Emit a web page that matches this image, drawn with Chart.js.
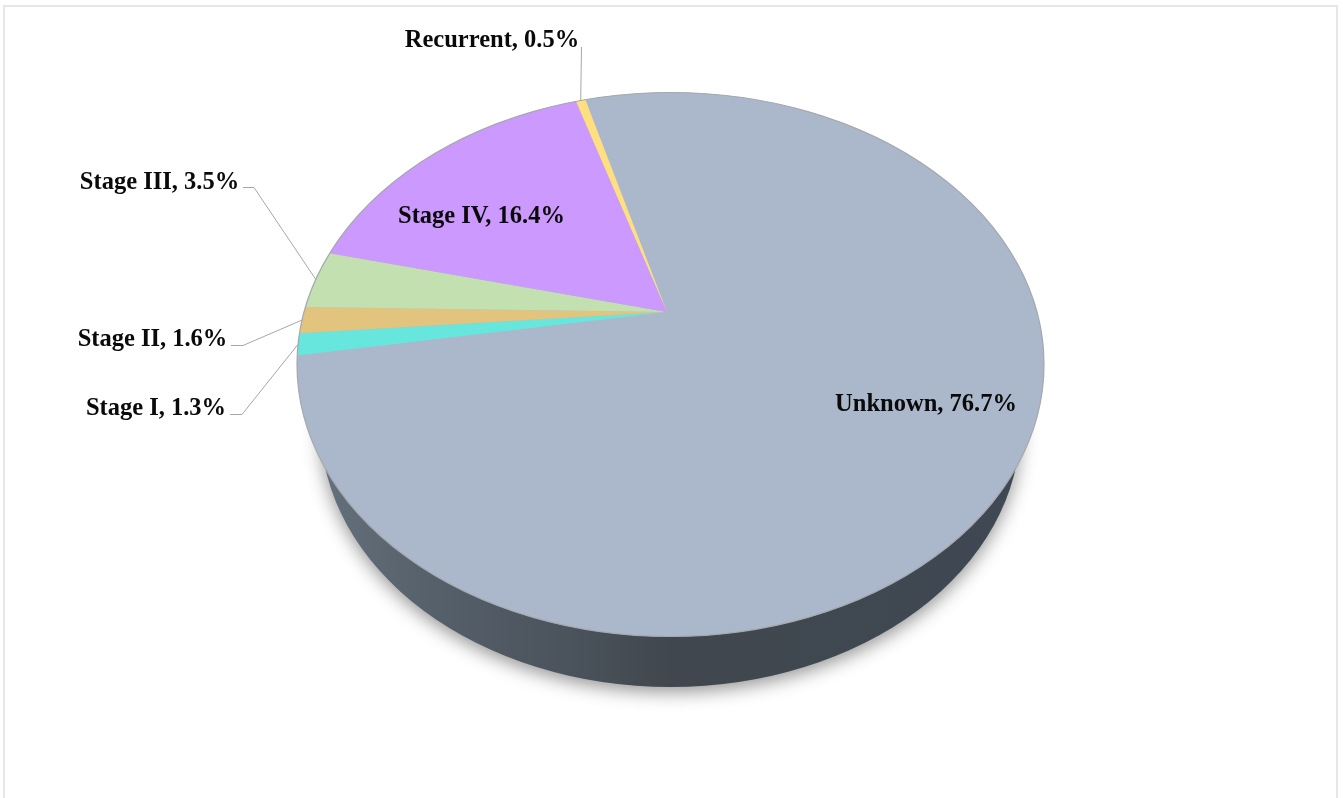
<!DOCTYPE html>
<html><head><meta charset="utf-8">
<script src="https://cdn.jsdelivr.net/npm/chart.js@4"></script>
<style>
html,body{margin:0;padding:0;background:#fff;width:1343px;height:798px;overflow:hidden}
#frame{position:absolute;left:3px;top:5px;width:1331px;height:820px;border:2px solid #e6e6e6}
canvas{position:absolute;left:0;top:0}
</style></head><body>
<div id="frame"></div>
<canvas id="c" width="1343" height="798"></canvas>
<script>
const categories = ["Unknown","Stage I","Stage II","Stage III","Stage IV","Recurrent"];
const values = [76.7,1.3,1.6,3.5,16.4,0.5];
const colors = ["#abb8cb","#66e6dc","#e2c47e","#c3e0b0","#cb99ff","#ffdf80"];

const top3d = {cx:670.5, cy:364.5, rx:373.5, ry:272, apexX:667, apexY:312};
const base3d = {cx:670.5, cy:425, rx:350, ry:262};
// label centre x, baseline y, and optional leader: elbow points
const labelLayout = {
  "Unknown":{x:926,y:411},
  "Stage IV":{x:481.5,y:223},
  "Stage III":{x:159.5,y:189,lead:[[243,187.5],[254,187.5]]},
  "Stage II":{x:152.5,y:346,lead:[[231,345.5],[243,345.5]]},
  "Stage I":{x:156,y:415,lead:[[230,414.5],[242,414.5]]},
  "Recurrent":{x:492,y:47,lead:[[581.5,47]]}
};
const FONT = 'bold 24.5px "Liberation Serif"';

const px=(top3d.apexX-top3d.cx)/top3d.rx, py=(top3d.apexY-top3d.cy)/top3d.ry;
const q=1+Math.sqrt(1-px*px-py*py), ar=px/q, ai=py/q;
function project(t){ // circle angle -> angle on the perspective ellipse
  const zr=Math.cos(t), zi=Math.sin(t);
  const nr=zr+ar, ni=zi+ai;
  const dr=1+ar*zr+ai*zi, di=ar*zi-ai*zr;
  return Math.atan2(ni*dr-nr*di, nr*dr+ni*di);
}
function unwrap(a,ref){ while(a<ref)a+=2*Math.PI; while(a>=ref+2*Math.PI)a-=2*Math.PI; return a; }
function edge(t){const f=project(t);return [top3d.cx+top3d.rx*Math.cos(f),top3d.cy+top3d.ry*Math.sin(f)];}

const pie3d = {
  id:'pie3d',
  beforeDatasetDraw(chart){
    const ctx=chart.ctx, arcs=chart.getDatasetMeta(0).data;
    // extruded side with soft shadow
    ctx.save();
    ctx.shadowColor='rgba(0,0,0,0.42)';ctx.shadowBlur=18;ctx.shadowOffsetY=5;
    const g=ctx.createLinearGradient(base3d.cx-base3d.rx,0,base3d.cx+base3d.rx,0);
    g.addColorStop(0,'#64707c');g.addColorStop(0.15,'#56616b');g.addColorStop(0.35,'#4b535c');
    g.addColorStop(0.5,'#40474e');g.addColorStop(1,'#3f4853');
    ctx.fillStyle=g;ctx.beginPath();
    ctx.ellipse(base3d.cx,base3d.cy,base3d.rx,base3d.ry,0,0,2*Math.PI);ctx.fill();
    ctx.restore();
    // top face: base fill prevents antialias seams between wedges
    ctx.beginPath();ctx.ellipse(top3d.cx,top3d.cy,top3d.rx,top3d.ry,0,0,2*Math.PI);
    ctx.fillStyle=colors[0];ctx.fill();
    arcs.forEach((a,i)=>{
      const f1=project(a.startAngle), f2=unwrap(project(a.endAngle),f1);
      ctx.beginPath();ctx.moveTo(top3d.apexX,top3d.apexY);
      ctx.ellipse(top3d.cx,top3d.cy,top3d.rx,top3d.ry,0,f1,f2);ctx.closePath();
      ctx.fillStyle=colors[i];ctx.fill();
    });
    ctx.beginPath();ctx.ellipse(top3d.cx,top3d.cy,top3d.rx,top3d.ry,0,0,2*Math.PI);
    ctx.strokeStyle='#a6a9ae';ctx.lineWidth=1.2;ctx.stroke();
    // leaders
    ctx.strokeStyle='#a6a6a6';ctx.lineWidth=1;
    arcs.forEach((a,i)=>{
      const L=labelLayout[categories[i]];
      if(!L.lead)return;
      const e=edge((a.startAngle+a.endAngle)/2);
      ctx.beginPath();L.lead.forEach((p,j)=>j?ctx.lineTo(p[0],p[1]):ctx.moveTo(p[0],p[1]));
      ctx.lineTo(e[0],e[1]);ctx.stroke();
    });
    // labels
    ctx.fillStyle='#0a0a0a';ctx.font=FONT;ctx.textAlign='center';ctx.textBaseline='alphabetic';
    categories.forEach((c,i)=>{
      const L=labelLayout[c];
      ctx.fillText(c+', '+values[i].toFixed(1)+'%',L.x,L.y);
    });
    return false;
  }
};

new Chart(document.getElementById('c'),{
  type:'pie',
  data:{labels:categories,datasets:[{data:values,backgroundColor:colors,borderWidth:0}]},
  options:{responsive:false,animation:false,rotation:-15.4,
    plugins:{legend:{display:false},tooltip:{enabled:false}},events:[]},
  plugins:[pie3d]
});
</script>
</body></html>
